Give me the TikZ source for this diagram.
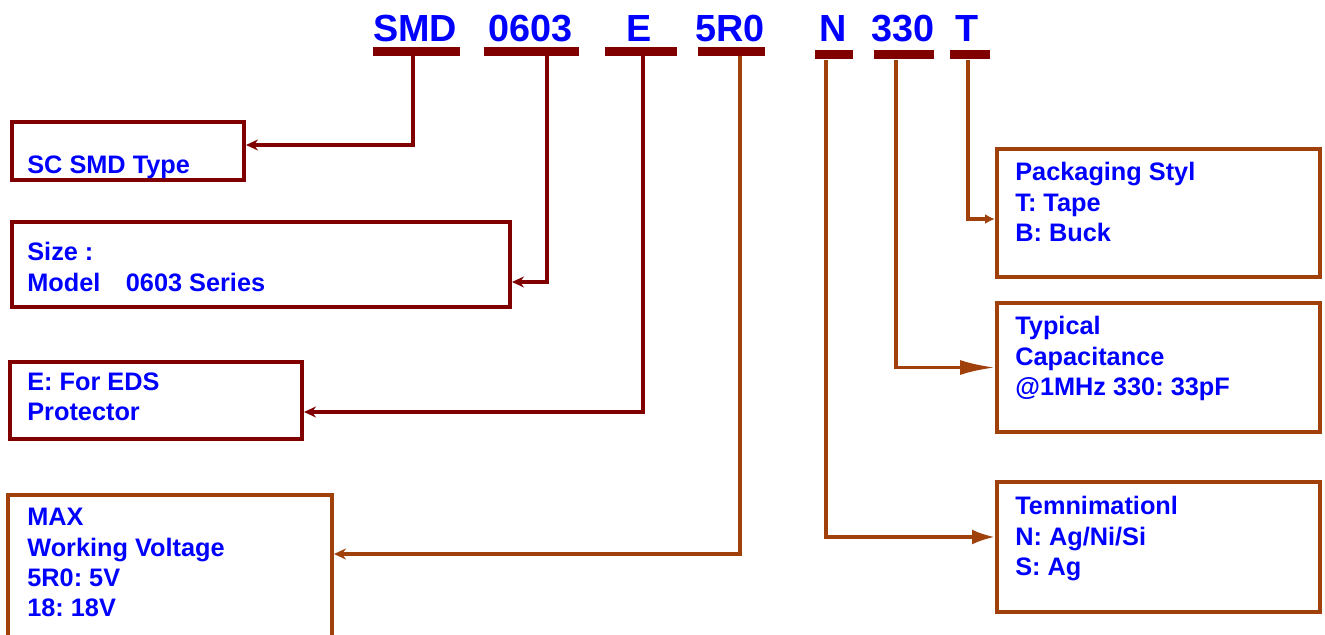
\documentclass[tikz,border=0pt]{standalone}
\usepackage{fontspec}
\setmainfont{Liberation Sans}
\usepackage{tikz}
\usetikzlibrary{arrows.meta}
\frenchspacing

\newlength\pxu
\setlength\pxu{0.02cm}

\definecolor{darkred}{RGB}{128,0,0}
\definecolor{rust}{RGB}{160,64,10}
\definecolor{codeblue}{RGB}{0,0,255}

\tikzset{
  code/.style={text=codeblue, font=\bfseries\fontsize{21.5}{24}\selectfont, inner sep=0pt, anchor=base},
  codebar/.style={fill=darkred, inner sep=0pt, minimum height=9\pxu},
  infobox/.style={draw=#1, line width=0.8mm, inner sep=0pt},
  info/.style={text=codeblue, font=\bfseries\fontsize{14.4}{17.3}\selectfont, align=left, inner sep=0pt, anchor=north west},
  link/.style={draw=#1, line width=0.7mm},
}

\begin{document}
\begin{tikzpicture}[x=0.02cm, y=-0.02cm]
    \clip (0,0) rectangle (1325,635);

    % part number
    \node[code] (cSMD) at (415,42) {SMD};
    \node[code] (cSize) at (531,42) {0603};
    \node[code] (cE) at (639,42) {E};
    \node[code] (cVolt) at (730,42) {5R0};
    \node[code] (cN) at (833,42) {N};
    \node[code] (cCap) at (903,42) {330};
    \node[code] (cT) at (967,42) {T};

    \node[codebar, minimum width=87\pxu] (bSMD) at (416.5,51.5) {};
    \node[codebar, minimum width=95\pxu] (bSize) at (531.5,51.5) {};
    \node[codebar, minimum width=72\pxu] (bE) at (641,51.5) {};
    \node[codebar, minimum width=67\pxu] (bVolt) at (731.5,51.5) {};
    \node[codebar, minimum width=38\pxu] (bN) at (834,55) {};
    \node[codebar, minimum width=60\pxu] (bCap) at (904,55) {};
    \node[codebar, minimum width=40\pxu] (bT) at (970,55) {};

    % left side
    \node[infobox=darkred, minimum width=232\pxu, minimum height=58\pxu] (typebox) at (128,151) {};
    \node[info] (typetxt) at (27,155) {SC SMD Type};
    \node[infobox=darkred, minimum width=498\pxu, minimum height=85\pxu] (sizebox) at (261,264.5) {};
    \node[info] (sizetxt) at (27,242) {Size :\\Model\hspace{14.5pt}0603 Series};
    \node[infobox=darkred, minimum width=292\pxu, minimum height=77\pxu] (edsbox) at (156,400.5) {};
    \node[info] (edstxt) at (27,372) {E: For EDS\\Protector};
    \node[infobox=rust, minimum width=324\pxu, minimum height=150\pxu] (voltbox) at (170,570) {};
    \node[info] (volttxt) at (27,508) {MAX\\Working Voltage\\5R0: 5V\\18: 18V};

    % right side
    \node[infobox=rust, minimum width=323\pxu, minimum height=128\pxu] (packbox) at (1158.5,213) {};
    \node[info] (packtxt) at (1015,162) {Packaging Styl\\T: Tape\\B: Buck};
    \node[infobox=rust, minimum width=323\pxu, minimum height=129\pxu] (capbox) at (1158.5,367.5) {};
    \node[info] (captxt) at (1015,316) {Typical\\Capacitance\\@1MHz 330: 33pF};
    \node[infobox=rust, minimum width=323\pxu, minimum height=130\pxu] (termbox) at (1158.5,547) {};
    \node[info] (termtxt) at (1015,496) {Temnimationl\\N: Ag/Ni/Si\\S: Ag};

    % connectors
    \draw[link=darkred, -{Stealth[length=2.4mm, width=2.2mm]}] ([shift={(-3.5,0)}]bSMD.south) |- ([shift={(0,-6)}]typebox.east);
    \draw[link=darkred, -{Stealth[length=2.4mm, width=2.2mm]}] ([shift={(15.5,0)}]bSize.south) |- ([shift={(0,17.5)}]sizebox.east);
    \draw[link=darkred, -{Stealth[length=2.4mm, width=2.2mm]}] ([shift={(2,0)}]bE.south) |- ([shift={(0,11.5)}]edsbox.east);
    \draw[link=rust, -{Stealth[length=2.4mm, width=2.2mm]}] ([shift={(8.5,0)}]bVolt.south) |- ([shift={(0,-16)}]voltbox.east);
    \draw[link=rust, -{Latex[length=4.6mm, width=3mm]}] ([shift={(-8,0)}]bN.south) |- ([shift={(0,-10)}]termbox.west);
    \draw[link=rust, -{Latex[length=7mm, width=3mm]}] ([shift={(-8,0)}]bCap.south) |- (capbox.west);
    \draw[link=rust, -{Latex[length=2mm, width=2mm]}] ([shift={(-2,0)}]bT.south) |- ([shift={(0,6)}]packbox.west);
\end{tikzpicture}
\end{document}
